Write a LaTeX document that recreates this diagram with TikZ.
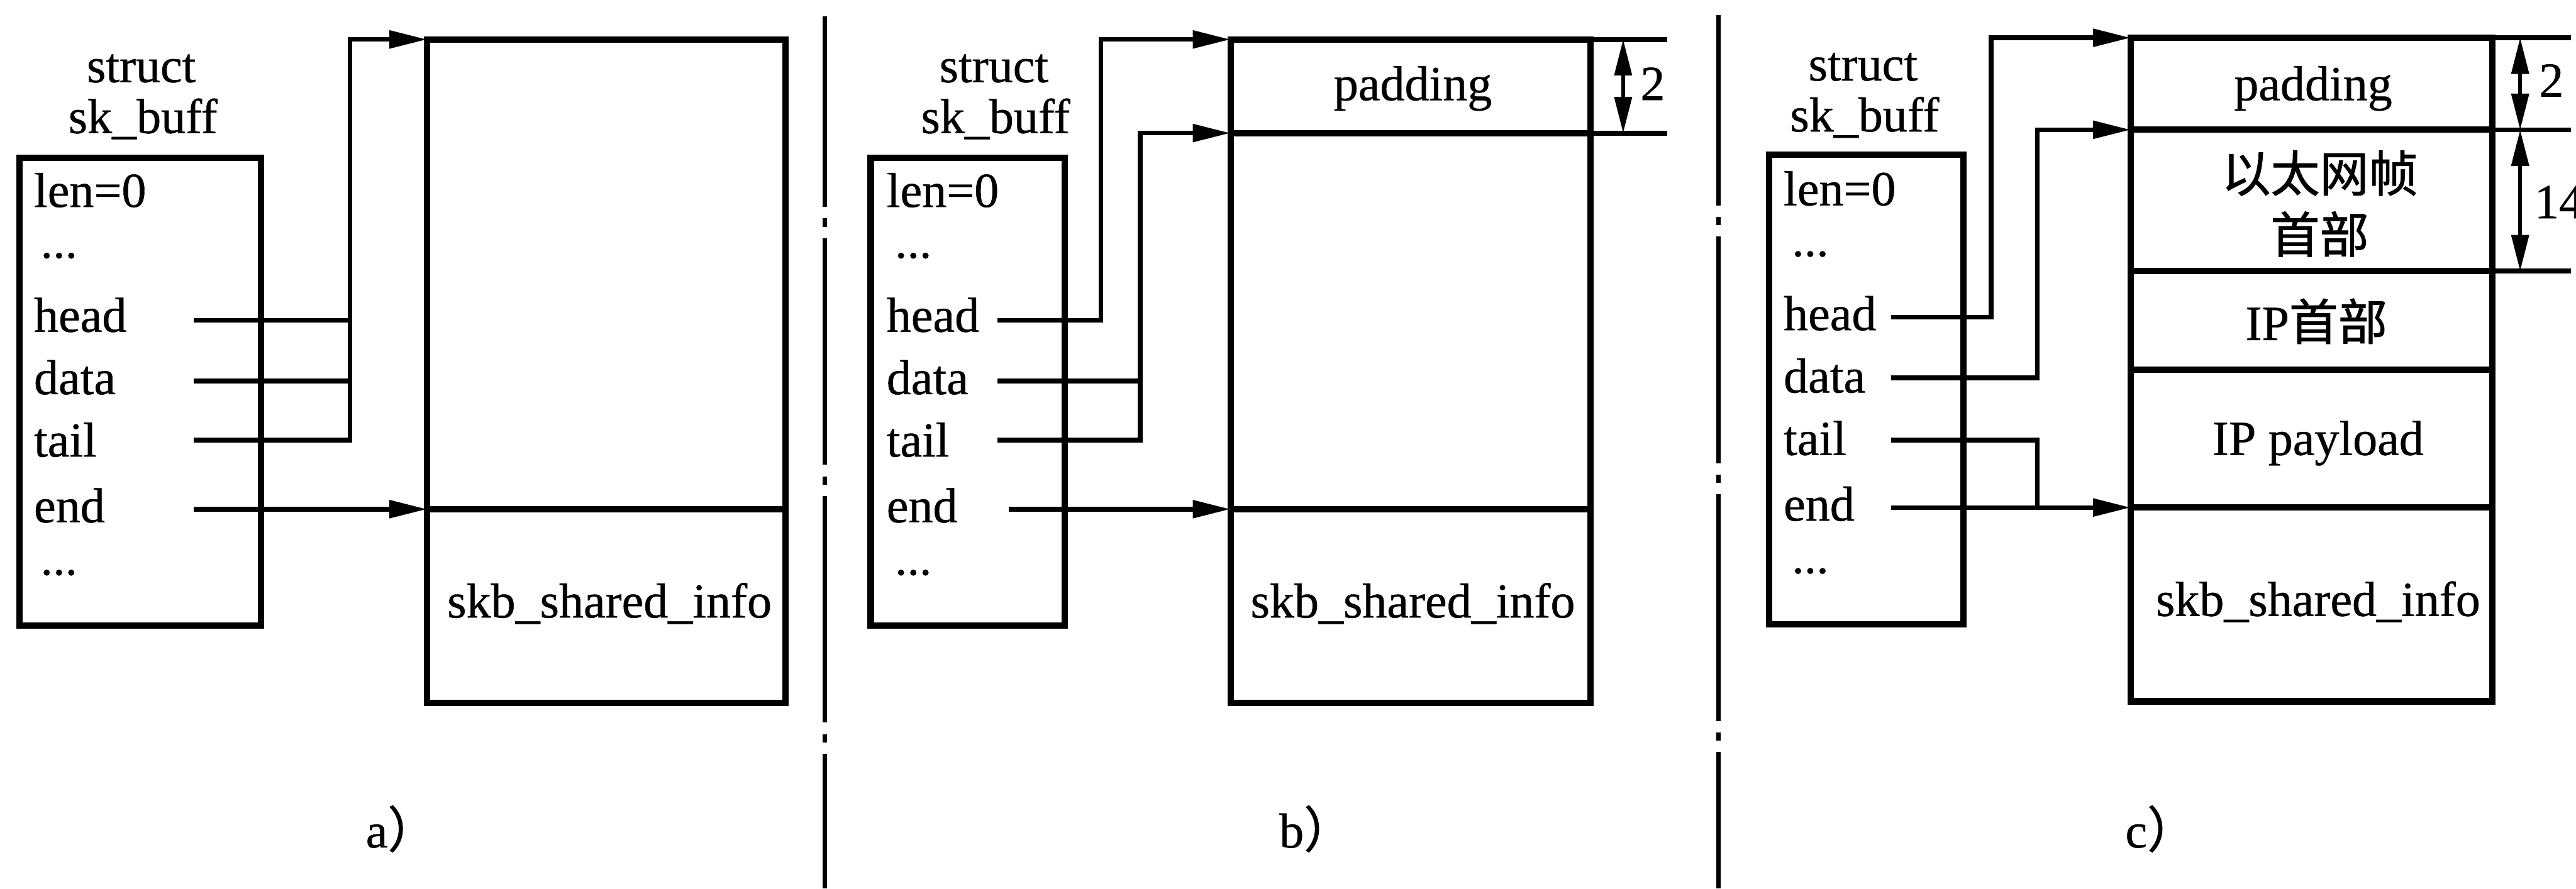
\documentclass[tikz,border=0pt]{standalone}
\usepackage{fontspec}
\setmainfont{Liberation Serif}[FakeBold=0.6]
\newfontfamily\zhfont{Noto Sans CJK SC}[FakeBold=1.2]
\usetikzlibrary{arrows.meta}

\begin{document}
\begin{tikzpicture}[x=0.1mm,y=-0.1mm,
  every node/.style={font=\fontsize{8.5pt}{10pt}\selectfont, inner sep=0pt},
  zh/.style={font=\zhfont\fontsize{8.5pt}{10.6pt}\selectfont, align=center},
  field/.style={anchor=base west},
  box/.style={line width=1.1pt},
  wire/.style={line width=0.8pt},
  ptr/.style={wire, -{Triangle[length=2.3mm, width=1.05mm]}},
  dim/.style={line width=0.6pt, {Triangle[length=2.2mm, width=1.05mm]}-{Triangle[length=2.2mm, width=1.05mm]}},
  ext/.style={line width=0.85pt},
  sep/.style={line width=0.7pt, dash pattern=on 13.8mm off 0.7mm on 0.5mm off 0.7mm, dash phase=2.2mm}]
\useasboundingbox (0,0) rectangle (1568,541);

% a)
\node[anchor=base] (a-struct) at (86,50) {struct};
\node[anchor=base] (a-type) at (87,81) {sk\_buff};
\draw[box] (12,96) rectangle (159,381);
\node[field] (a-len) at (20,126) {len=0};
\node[field] (a-dot1) at (24,157) {...};
\node[field] (a-head) at (20,202) {head};
\node[field] (a-data) at (20,240) {data};
\node[field] (a-tail) at (20,278) {tail};
\node[field] (a-end) at (20,318) {end};
\node[field] (a-dot2) at (24,350) {...};
\draw[box] (260,24) rectangle (478,428);
\draw[box] (260,310) -- (478,310);
\node[anchor=base] (a-info) at (371,376) {skb\_shared\_info};
\coordinate (a-head-p) at (118,195);
\coordinate (a-data-p) at (118,232);
\coordinate (a-tail-p) at (118,268);
\coordinate (a-end-p) at (118,310);
\coordinate (a-bus) at (213,24);
\coordinate (a-top) at (260,24);
\coordinate (a-shared) at (260,310);
\draw[ptr] (a-head-p) -| (a-bus) -- (a-top);
\draw[wire] (a-data-p) -- (a-data-p -| a-bus);
\draw[wire] (a-tail-p) -| (a-bus);
\draw[ptr] (a-end-p) -- (a-shared);
\node[anchor=base west] (a-cap) at (222,516) {a{\zhfont ）}};

\draw[sep] (502,10) -- (502,541);

% b)
\node[anchor=base] (b-struct) at (605,50) {struct};
\node[anchor=base] (b-type) at (606,81) {sk\_buff};
\draw[box] (530,96) rectangle (648,381);
\node[field] (b-len) at (539,126) {len=0};
\node[field] (b-dot1) at (544,157) {...};
\node[field] (b-head) at (539,202) {head};
\node[field] (b-data) at (539,240) {data};
\node[field] (b-tail) at (539,278) {tail};
\node[field] (b-end) at (539,318) {end};
\node[field] (b-dot2) at (544,350) {...};
\draw[box] (749,24) rectangle (968,428);
\draw[box] (749,81) -- (968,81);
\draw[box] (749,310) -- (968,310);
\node[anchor=base] (b-pad) at (860,61) {padding};
\node[anchor=base] (b-info) at (860,376) {skb\_shared\_info};
\coordinate (b-head-p) at (607,195);
\coordinate (b-data-p) at (607,232);
\coordinate (b-tail-p) at (607,268);
\coordinate (b-end-p) at (614,310);
\coordinate (b-bus1) at (670,24);
\coordinate (b-bus2) at (694,81);
\coordinate (b-top) at (749,24);
\coordinate (b-start) at (749,81);
\coordinate (b-shared) at (749,310);
\draw[ptr] (b-head-p) -| (b-bus1) -- (b-top);
\draw[ptr] (b-data-p) -| (b-bus2) -- (b-start);
\draw[wire] (b-tail-p) -| (b-bus2);
\draw[ptr] (b-end-p) -- (b-shared);
\draw[ext] (968,24) -- (1015,24);
\draw[ext] (968,81) -- (1015,81);
\coordinate (b-d1) at (988,24);
\coordinate (b-d2) at (988,81);
\draw[dim] (b-d1) -- (b-d2);
\node (b-two) at (1006,51) {2};
\node[anchor=base west] (b-cap) at (778,516) {b{\zhfont ）}};

\draw[sep] (1046,9) -- (1046,541);

% c)
\node[anchor=base] (c-struct) at (1134,49) {struct};
\node[anchor=base] (c-type) at (1135,80) {sk\_buff};
\draw[box] (1077,94) rectangle (1195,380);
\node[field] (c-len) at (1085,125) {len=0};
\node[field] (c-dot1) at (1090,156) {...};
\node[field] (c-head) at (1085,201) {head};
\node[field] (c-data) at (1085,239) {data};
\node[field] (c-tail) at (1085,277) {tail};
\node[field] (c-end) at (1085,317) {end};
\node[field] (c-dot2) at (1090,349) {...};
\draw[box] (1297,23) rectangle (1517,427);
\draw[box] (1297,79) -- (1517,79);
\draw[box] (1297,165) -- (1517,165);
\draw[box] (1297,225) -- (1517,225);
\draw[box] (1297,309) -- (1517,309);
\node[anchor=base] (c-pad) at (1408,61) {padding};
\node[zh] (c-eth) at (1412,124) {以太网帧\\首部};
\node[anchor=base] (c-ip) at (1410,207) {IP{\zhfont 首部}};
\node[anchor=base] (c-load) at (1411,277) {IP payload};
\node[anchor=base] (c-info) at (1411,375) {skb\_shared\_info};
\coordinate (c-head-p) at (1151,193);
\coordinate (c-data-p) at (1151,230);
\coordinate (c-tail-p) at (1151,268);
\coordinate (c-end-p) at (1151,309);
\coordinate (c-bus1) at (1212,23);
\coordinate (c-bus2) at (1240,79);
\coordinate (c-bus3) at (1240,309);
\coordinate (c-top) at (1297,23);
\coordinate (c-start) at (1297,79);
\coordinate (c-shared) at (1297,309);
\draw[ptr] (c-head-p) -| (c-bus1) -- (c-top);
\draw[ptr] (c-data-p) -| (c-bus2) -- (c-start);
\draw[wire] (c-tail-p) -| (c-bus3);
\draw[ptr] (c-end-p) -- (c-shared);
\draw[ext] (1517,23) -- (1565,23);
\draw[ext] (1517,79) -- (1565,79);
\draw[ext] (1517,165) -- (1565,165);
\coordinate (c-d1) at (1534,23);
\coordinate (c-d2) at (1534,79);
\coordinate (c-d3) at (1534,165);
\draw[dim] (c-d1) -- (c-d2);
\draw[dim] (c-d2) -- (c-d3);
\node (c-two) at (1553,49) {2};
\node[anchor=west] (c-four) at (1542,123) {14};
\node[anchor=base west] (c-cap) at (1293,516) {c{\zhfont ）}};
\end{tikzpicture}
\end{document}
